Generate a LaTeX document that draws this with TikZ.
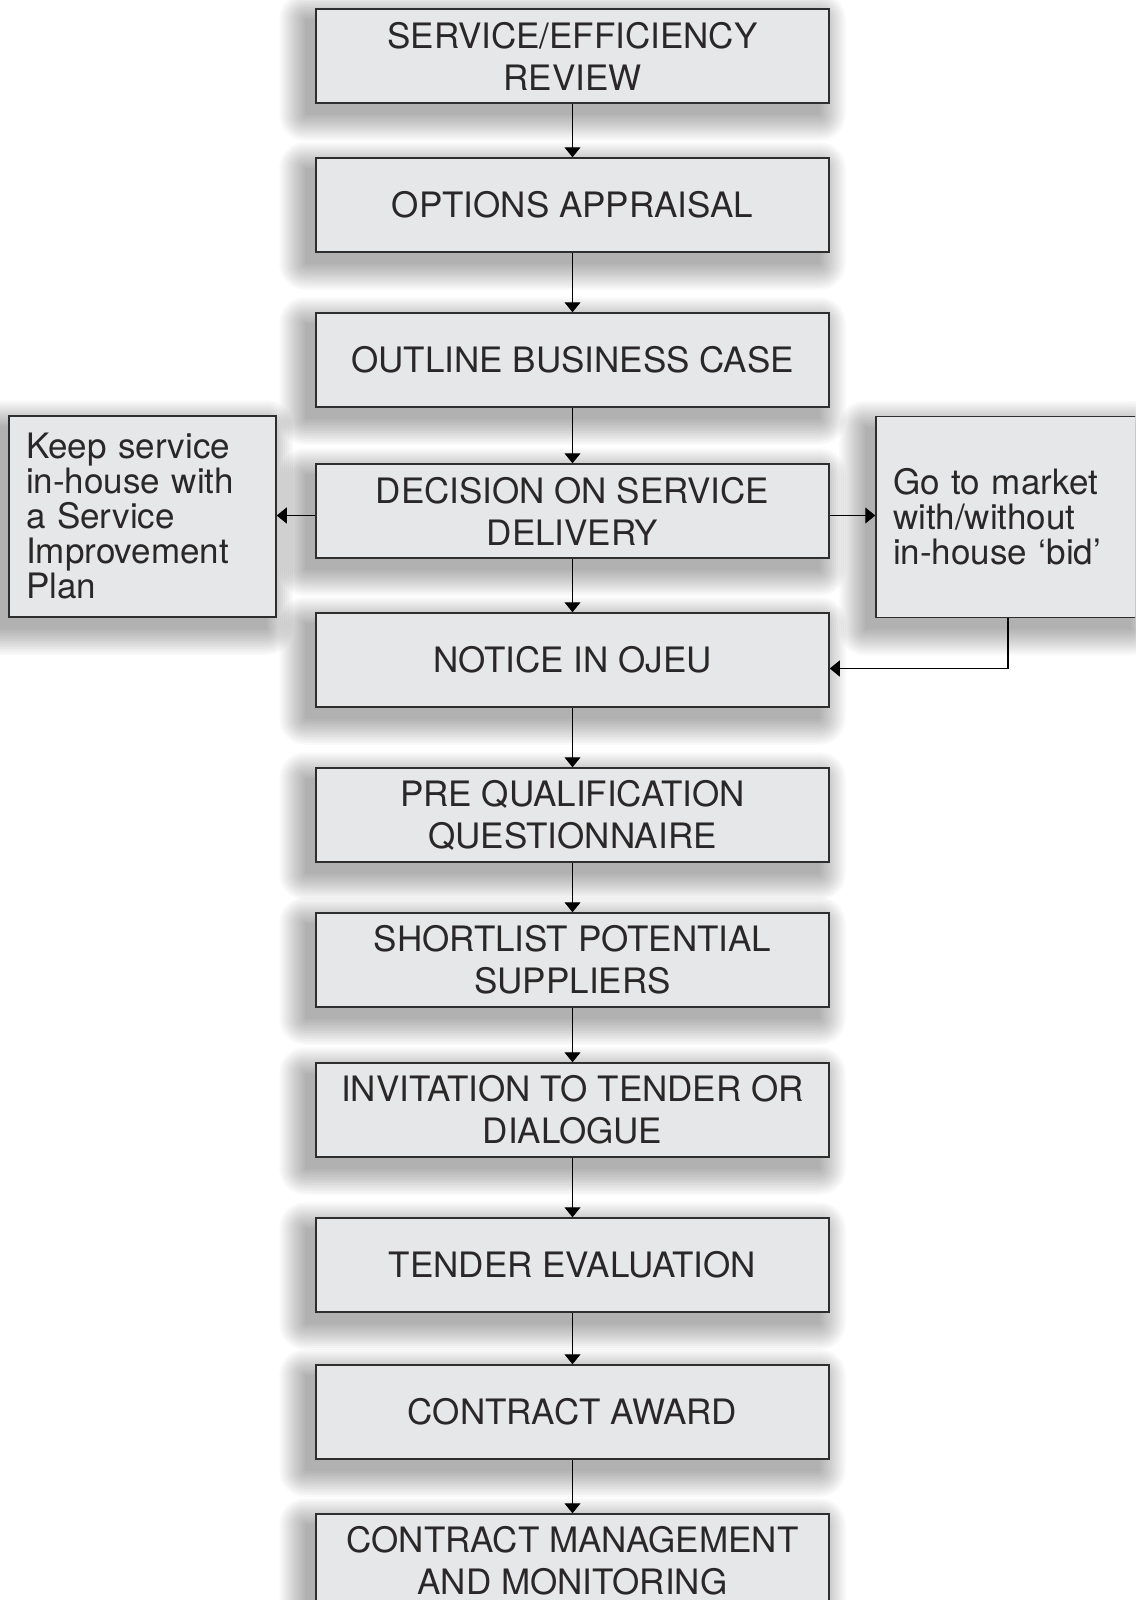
\documentclass[tikz,border=0pt]{standalone}
\usepackage{fontspec}
\setmainfont{TeX Gyre Heros}
\usetikzlibrary{arrows.meta}
\definecolor{boxfill}{HTML}{E6E7E8}
\definecolor{boxline}{HTML}{2E2E2E}
\definecolor{txt}{HTML}{2A2728}
\pgfdeclarelayer{shadowlayer}
\pgfsetlayers{shadowlayer,main}
\newcommand{\mydropshadow}[1]{%
  \foreach \e in {0,2,...,26}{%
    \fill[black,fill opacity=0.025,rounded corners=\e pt]
      ([xshift=-10pt-\e pt,yshift=-11pt+\e pt]#1.north west) rectangle
      ([xshift=-10pt+\e pt,yshift=-11pt-\e pt]#1.south east);
  }}
\begin{document}
\begin{tikzpicture}[x={(1pt,0)},y={(0,-1pt)},
  stepbox/.style={draw=boxline,line width=1.5pt,fill=boxfill,
    minimum width=513pt,minimum height=94pt,inner sep=0pt,align=center,
    text=txt,font=\fontsize{35}{42}\selectfont},
  sidebox/.style={draw=boxline,line width=1.5pt,fill=boxfill,
    minimum height=201pt,inner xsep=17pt,inner ysep=0pt,align=left,
    text=txt,font=\fontsize{35}{35}\selectfont},
  arr/.style={draw=black,line width=1.2pt,-{Triangle[width=16pt,length=10pt]}}]
\path[use as bounding box] (0,0) rectangle (1135,1600);
\clip (0,0) rectangle (1135,1600);

\node[stepbox] (a1) at (572.5,56) {SERVICE/EFFICIENCY\\REVIEW};
\node[stepbox] (a2) at (572.5,205) {OPTIONS APPRAISAL};
\node[stepbox] (a3) at (572.5,360) {OUTLINE BUSINESS CASE};
\node[stepbox] (a4) at (572.5,511) {DECISION ON SERVICE\\DELIVERY};
\node[stepbox] (a5) at (572.5,660) {NOTICE IN OJEU};
\node[stepbox] (a6) at (572.5,815) {PRE QUALIFICATION\\QUESTIONNAIRE};
\node[stepbox] (a7) at (572.5,960) {SHORTLIST POTENTIAL\\SUPPLIERS};
\node[stepbox] (a8) at (572.5,1110) {INVITATION TO TENDER OR\\DIALOGUE};
\node[stepbox] (a9) at (572.5,1265) {TENDER EVALUATION};
\node[stepbox] (a10) at (572.5,1412) {CONTRACT AWARD};
\node[stepbox] (a11) at (572.5,1561) {CONTRACT MANAGEMENT\\AND MONITORING};

\node[sidebox,text width=233pt] (keep) at (142.5,516.5)
  {Keep service\\in-house with\\a Service\\Improvement\\Plan};
\node[sidebox,text width=230pt] (market) at (1008,517)
  {Go to market\\with/without\\in-house ‘bid’};

\begin{pgfonlayer}{shadowlayer}
  \fill[white] (0,0) rectangle (1135,1600);
  \foreach \n in {a1,a2,a3,a4,a5,a6,a7,a8,a9,a10,a11,keep,market}{\mydropshadow{\n}}
\end{pgfonlayer}

\foreach \i/\j in {a1/a2,a2/a3,a3/a4,a4/a5,a5/a6,a6/a7,a7/a8,a8/a9,a9/a10,a10/a11}
  \draw[arr] (\i.south) -- (\j.north);

\draw[arr] ([yshift=-4.5pt]a4.west) -- ([yshift=-4.5pt]a4.west -| keep.east);
\draw[arr] ([yshift=-4.5pt]a4.east) -- ([yshift=-4.5pt]a4.east -| market.west);
\draw[arr] (market.south) |- ([yshift=-8.5pt]a5.east);
\end{tikzpicture}
\end{document}
